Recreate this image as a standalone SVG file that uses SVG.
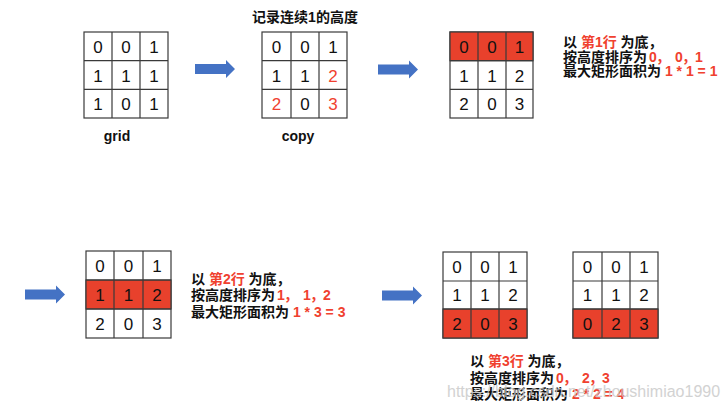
<svg xmlns="http://www.w3.org/2000/svg" width="728" height="409" viewBox="0 0 728 409">
<style>
.cell{fill:#fff;stroke:#3a3a3a;stroke-width:1.2}
.hl{fill:#E8412C;stroke:#3a3a3a;stroke-width:1.2}
.num{font-family:"Liberation Sans","Noto Sans CJK SC",sans-serif;font-size:17px;fill:#111;text-anchor:middle}
.r{fill:#F0412F}
.lbl{font-family:"Liberation Sans","Noto Sans CJK SC",sans-serif;font-size:14px;font-weight:bold;fill:#111}
.arrow{fill:#4472C4}
.wm{font-family:"Liberation Sans",sans-serif;font-size:16px;fill:#c8c8c8;opacity:0.8}
</style>
<defs>
<path id="arr" d="M0,-5 H31 V-9 L40,0 L31,9 V5 H0 Z"/>
</defs>
<rect width="728" height="409" fill="#fff"/>

<g id="connectors">
<use href="#arr" class="arrow" x="195" y="69"/>
<use href="#arr" class="arrow" x="378" y="69.5"/>
<use href="#arr" class="arrow" x="25" y="294.5"/>
<use href="#arr" class="arrow" x="382" y="295.5"/>
</g>

<g id="grid">
<rect class="cell" x="84" y="32" width="84" height="86"/>
<path d="M112,32V118M140,32V118M84,60.7H168M84,89.3H168" stroke="#3a3a3a" stroke-width="1.2"/>
<g class="num">
<text x="98" y="53">0</text><text x="126" y="53">0</text><text x="154" y="53">1</text>
<text x="98" y="82">1</text><text x="126" y="82">1</text><text x="154" y="82">1</text>
<text x="98" y="110">1</text><text x="126" y="110">0</text><text x="154" y="110">1</text>
</g>
<text class="lbl" x="117" y="141" text-anchor="middle">grid</text>
</g>

<g id="copy">
<text class="lbl" x="305" y="22" text-anchor="middle">记录连续1的高度</text>
<rect class="cell" x="262" y="32" width="85" height="86"/>
<path d="M291,32V118M319,32V118M262,60.7H347M262,89.3H347" stroke="#3a3a3a" stroke-width="1.2"/>
<g class="num">
<text x="276.5" y="53">0</text><text x="305" y="53">0</text><text x="333" y="53">1</text>
<text x="276.5" y="82">1</text><text x="305" y="82">1</text><text x="333" y="82" class="r">2</text>
<text x="276.5" y="110" class="r">2</text><text x="305" y="110">0</text><text x="333" y="110" class="r">3</text>
</g>
<text class="lbl" x="298" y="141" text-anchor="middle">copy</text>
</g>

<g id="row1">
<rect class="cell" x="450" y="32" width="83" height="86"/>
<rect class="hl" x="450" y="32" width="83" height="28.7"/>
<path d="M478,32V118M506,32V118M450,60.7H533M450,89.3H533" stroke="#3a3a3a" stroke-width="1.2"/>
<g class="num">
<text x="464" y="53">0</text><text x="492" y="53">0</text><text x="519.5" y="53">1</text>
<text x="464" y="82">1</text><text x="492" y="82">1</text><text x="519.5" y="82">2</text>
<text x="464" y="110">2</text><text x="492" y="110">0</text><text x="519.5" y="110">3</text>
</g>
<text class="lbl" x="563" y="47">以 <tspan class="r">第1行</tspan> 为底，</text>
<text class="lbl" x="563" y="61.5">按高度排序为 <tspan class="r" x="649">0</tspan><tspan class="r" x="656">，</tspan><tspan class="r" x="675">0</tspan><tspan class="r" x="682">，</tspan><tspan class="r" x="695">1</tspan></text>
<text class="lbl" x="563" y="76">最大矩形面积为 <tspan class="r">1 * 1 = 1</tspan></text>
</g>

<g id="row2">
<rect class="cell" x="86" y="251" width="85" height="87"/>
<rect class="hl" x="86" y="280" width="85" height="29"/>
<path d="M114,251V338M143,251V338M86,280H171M86,309H171" stroke="#3a3a3a" stroke-width="1.2"/>
<g class="num">
<text x="100" y="272">0</text><text x="128.5" y="272">0</text><text x="157" y="272">1</text>
<text x="100" y="301">1</text><text x="128.5" y="301">1</text><text x="157" y="301">2</text>
<text x="100" y="330">2</text><text x="128.5" y="330">0</text><text x="157" y="330">3</text>
</g>
<text class="lbl" x="191" y="284">以 <tspan class="r">第2行</tspan> 为底，</text>
<text class="lbl" x="191" y="299.5">按高度排序为 <tspan class="r" x="277">1</tspan><tspan class="r" x="284">，</tspan><tspan class="r" x="303">1</tspan><tspan class="r" x="310">，</tspan><tspan class="r" x="323">2</tspan></text>
<text class="lbl" x="191" y="316.5">最大矩形面积为 <tspan class="r">1 * 3 = 3</tspan></text>
</g>

<g id="row3">
<rect class="cell" x="443" y="252" width="84" height="86"/>
<rect class="hl" x="443" y="309" width="84" height="29"/>
<path d="M471,252V338M499,252V338M443,281H527M443,309H527" stroke="#3a3a3a" stroke-width="1.2"/>
<g class="num">
<text x="457" y="273">0</text><text x="485" y="273">0</text><text x="513" y="273">1</text>
<text x="457" y="301">1</text><text x="485" y="301">1</text><text x="513" y="301">2</text>
<text x="457" y="330">2</text><text x="485" y="330">0</text><text x="513" y="330">3</text>
</g>
</g>

<g id="row3-sorted">
<rect class="cell" x="573" y="252" width="85" height="86"/>
<rect class="hl" x="573" y="309" width="85" height="29"/>
<path d="M602,252V338M630,252V338M573,281H658M573,309H658" stroke="#3a3a3a" stroke-width="1.2"/>
<g class="num">
<text x="587.5" y="273">0</text><text x="616" y="273">0</text><text x="644" y="273">1</text>
<text x="587.5" y="301">1</text><text x="616" y="301">1</text><text x="644" y="301">2</text>
<text x="587.5" y="330">0</text><text x="616" y="330">2</text><text x="644" y="330">3</text>
</g>
<text class="lbl" x="470" y="366">以 <tspan class="r">第3行</tspan> 为底，</text>
<text class="lbl" x="470" y="382.5">按高度排序为 <tspan class="r" x="556">0</tspan><tspan class="r" x="563">，</tspan><tspan class="r" x="582">2</tspan><tspan class="r" x="589">，</tspan><tspan class="r" x="602">3</tspan></text>
<text class="lbl" x="470" y="399">最大矩形面积为 <tspan class="r">2 * 2 = 4</tspan></text>
</g>

<text class="wm" x="447" y="397">https://blog.csdn.net/zhoushimiao1990</text>
</svg>
